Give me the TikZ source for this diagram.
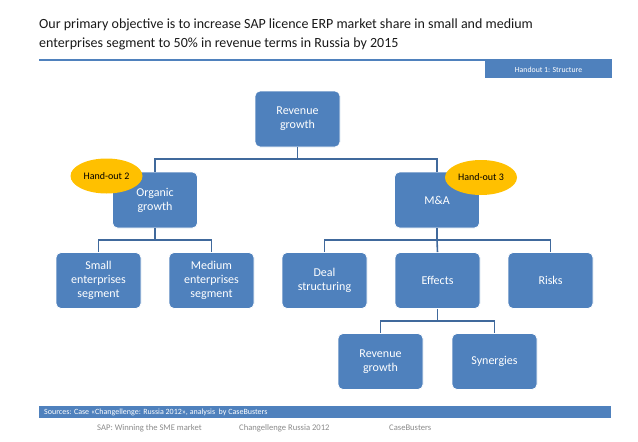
\documentclass[tikz,border=0pt]{standalone}
\usepackage{fontspec}
\setmainfont{Carlito}
\usetikzlibrary{shapes.geometric}
\definecolor{boxblue}{HTML}{4F81BD}
\definecolor{linkblue}{HTML}{40699C}
\definecolor{gold}{HTML}{FFC000}
\definecolor{foot}{HTML}{8A8A8A}
\tikzset{
  box/.style={rectangle, rounded corners=5, fill=boxblue, draw=white, line width=0.8,
    text=white, minimum width=85, minimum height=56, align=center,
    font=\fontsize{12}{14}\selectfont, inner sep=1},
  conn/.style={draw=linkblue, line width=1.6},
  badge/.style={ellipse, fill=gold, minimum width=72, minimum height=35, inner sep=0,
    font=\fontsize{10}{12}\selectfont, text=black},
  bar/.style={rectangle, fill=boxblue, inner sep=0, text=white},
  foottext/.style={anchor=west, inner sep=0, text=foot, font=\fontsize{8.6}{10}\selectfont}
}
\begin{document}
\begin{tikzpicture}[x=1pt,y=-1pt]
\useasboundingbox (0,0) rectangle (638,442);
% title
\node[anchor=north west, align=left, inner sep=0, font=\fontsize{14}{18.5}\selectfont, text=black!90] (title) at (39,19)
 {Our primary objective is to increase SAP licence ERP market share in small and medium\\enterprises segment to 50\% in revenue terms in Russia by 2015};
\draw[boxblue, line width=2] (39,60) -- (612,60);
\node[bar, minimum width=127, minimum height=17, font=\fontsize{7.8}{9}\selectfont] (hand1) at (548.5,69.5) {Handout 1: Structure};
% boxes
\node[box] (rev) at (297.5,119) {Revenue\\growth};
\node[box] (org) at (155,200) {Organic\\growth};
\node[box] (ma) at (437,200) {M\&A};
\node[box] (small) at (98.5,280.5) {Small\\enterprises\\segment};
\node[box] (med) at (211.5,280.5) {Medium\\enterprises\\segment};
\node[box] (deal) at (324.5,280.5) {Deal\\structuring};
\node[box] (eff) at (437.5,280.5) {Effects};
\node[box] (risk) at (550.5,280.5) {Risks};
\node[box] (rev2) at (380.5,361.5) {Revenue\\growth};
\node[box] (syn) at (494.5,361.5) {Synergies};
% connectors
\coordinate (b1) at (297.5,159);
\coordinate (b2) at (155,240);
\coordinate (b3) at (437,240);
\coordinate (b4) at (437.5,321);
\draw[conn] (rev.south) -- (b1) -| (org.north);
\draw[conn] (b1) -| (ma.north);
\draw[conn] (org.south) -- (b2) -| (small.north);
\draw[conn] (b2) -| (med.north);
\draw[conn] (ma.south) -- (b3) -| (deal.north);
\draw[conn] (b3) -| (risk.north);
\draw[conn] (b3) -- (eff.north);
\draw[conn] (eff.south) -- (b4) -| (rev2.north);
\draw[conn] (b4) -| (syn.north);
% badges
\node[badge] (h2) at (106.5,176) {Hand-out 2};
\node[badge] (h3) at (481,177.5) {Hand-out 3};
% sources
\node[bar, minimum width=572, minimum height=12, anchor=west] (src) at (39,412) {};
\node[anchor=west, inner sep=0, text=white, font=\fontsize{8}{9}\selectfont] (srct) at (44,412)
 {Sources: Case «Changellenge: Russia 2012», analysis\ \ by CaseBusters};
% footer
\node[foottext] (f1) at (97,428) {SAP: Winning the SME market};
\node[foottext] (f2) at (239,428) {Changellenge Russia 2012};
\node[foottext] (f3) at (389,428) {CaseBusters};
\end{tikzpicture}
\end{document}
